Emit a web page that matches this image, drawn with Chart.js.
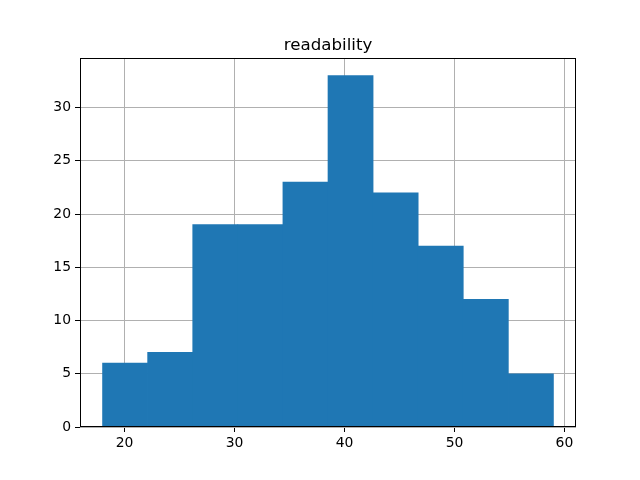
<!DOCTYPE html>
<html><head><meta charset="utf-8">
<script src="https://cdn.jsdelivr.net/npm/chart.js@4/dist/chart.umd.min.js"></script>
<style>html,body{margin:0;padding:0;background:#fff}#c{display:block}</style>
</head>
<body>
<canvas id="c" width="640" height="480"></canvas>
<script>
const titleText = 'readability';
const binEdges = [18, 22.1, 26.2, 30.3, 34.4, 38.5, 42.6, 46.7, 50.8, 54.9, 59];
const counts = [6, 7, 19, 19, 23, 33, 22, 17, 12, 5];
const xTicks = [20, 30, 40, 50, 60];
const yTicks = [0, 5, 10, 15, 20, 25, 30];

const span = binEdges[binEdges.length - 1] - binEdges[0];
const xMin = binEdges[0] - 0.05 * span;
const xMax = binEdges[binEdges.length - 1] + 0.05 * span;
const yMax = Math.max(...counts) * 1.05;

const points = counts.map((c, i) => ({ x: (binEdges[i] + binEdges[i + 1]) / 2, y: c }));

const frameAndTitle = {
  id: 'frameAndTitle',
  afterDraw(chart) {
    const { ctx, chartArea: a } = chart;
    ctx.save();
    ctx.strokeStyle = '#000';
    ctx.lineWidth = 1;
    ctx.strokeRect(Math.round(a.left) + 0.5, Math.round(a.top) + 0.5,
      Math.round(a.right - a.left) - 1, Math.round(a.bottom - a.top) - 1);
    ctx.fillStyle = '#000';
    ctx.font = '16.67px "DejaVu Sans"';
    ctx.textAlign = 'center';
    ctx.textBaseline = 'alphabetic';
    ctx.fillText(titleText, (a.left + a.right) / 2, a.top - 8.3);
    ctx.restore();
  }
};

const tickFont = { family: 'DejaVu Sans', size: 13.9 };

new Chart(document.getElementById('c'), {
  type: 'bar',
  data: {
    datasets: [{
      data: points,
      backgroundColor: '#1f77b4',
      borderWidth: 0,
      barPercentage: 1,
      categoryPercentage: 1,
      grouped: false
    }]
  },
  options: {
    responsive: false,
    animation: false,
    devicePixelRatio: 1,
    layout: { padding: { top: 58, right: 64, left: 0, bottom: 0 } },
    plugins: { legend: { display: false }, tooltip: { enabled: false }, title: { display: false } },
    scales: {
      x: {
        type: 'linear',
        min: xMin, max: xMax,
        offset: false,
        z: 1,
        afterBuildTicks(s) { s.ticks = xTicks.map(v => ({ value: v })); },
        afterFit(s) { s.height = 53; },
        grid: { color: '#b0b0b0', lineWidth: 1, tickColor: '#000', tickLength: 5, offset: false },
        border: { display: false },
        ticks: { color: '#000', font: tickFont, padding: 3, maxRotation: 0, autoSkip: false }
      },
      y: {
        type: 'linear',
        min: 0, max: yMax,
        z: 1,
        afterBuildTicks(s) { s.ticks = yTicks.map(v => ({ value: v })); },
        afterFit(s) { s.width = 80; },
        grid: { color: '#b0b0b0', lineWidth: 1, tickColor: '#000', tickLength: 5, offset: false },
        border: { display: false },
        ticks: { color: '#000', font: tickFont, padding: 4, autoSkip: false }
      }
    }
  },
  plugins: [frameAndTitle]
});
</script>
</body></html>
